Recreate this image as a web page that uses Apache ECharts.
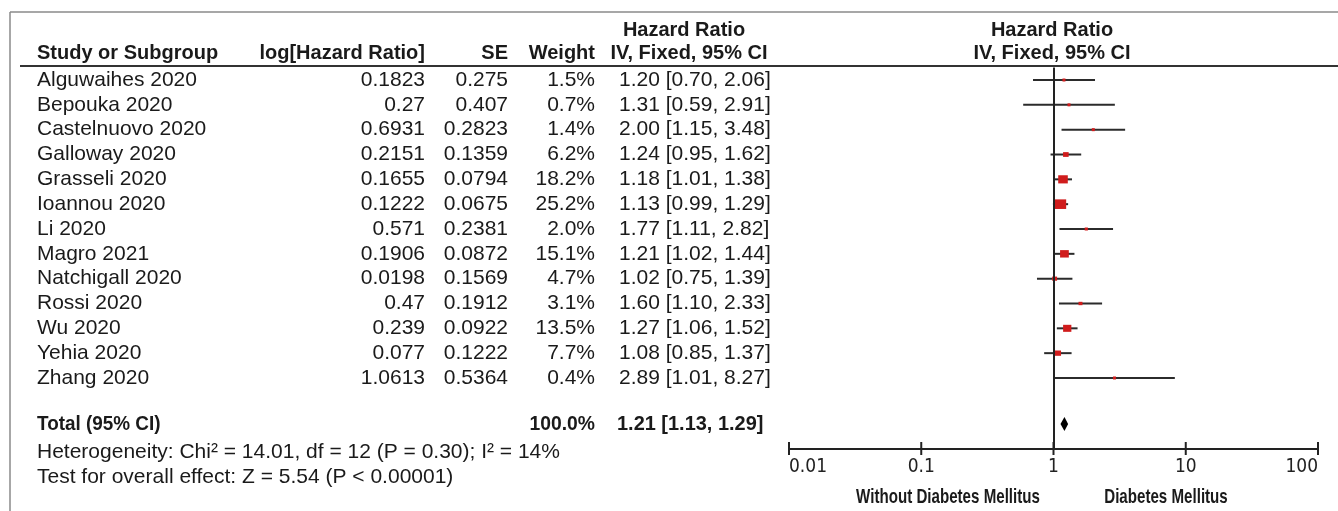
<!DOCTYPE html>
<html><head><meta charset="utf-8">
<script src="https://cdn.jsdelivr.net/npm/echarts@6/dist/echarts.min.js"></script>
<style>html,body{margin:0;padding:0;background:#fff}#c{width:1338px;height:511px}</style>
</head><body><div id="c"></div>
<script>
// ---- data ----
const studies = ['Alguwaihes 2020','Bepouka 2020','Castelnuovo 2020','Galloway 2020','Grasseli 2020','Ioannou 2020','Li 2020','Magro 2021','Natchigall 2020','Rossi 2020','Wu 2020','Yehia 2020','Zhang 2020'];
const logHR = [0.1823,0.27,0.6931,0.2151,0.1655,0.1222,0.571,0.1906,0.0198,0.47,0.239,0.077,1.0613];
const se = [0.275,0.407,0.2823,0.1359,0.0794,0.0675,0.2381,0.0872,0.1569,0.1912,0.0922,0.1222,0.5364];
const weight = [1.5,0.7,1.4,6.2,18.2,25.2,2.0,15.1,4.7,3.1,13.5,7.7,0.4];
const hr = [1.20,1.31,2.00,1.24,1.18,1.13,1.77,1.21,1.02,1.60,1.27,1.08,2.89];
const ciLow = [0.70,0.59,1.15,0.95,1.01,0.99,1.11,1.02,0.75,1.10,1.06,0.85,1.01];
const ciHigh = [2.06,2.91,3.48,1.62,1.38,1.29,2.82,1.44,1.39,2.33,1.52,1.37,8.27];
const totalWeight = 100.0, totalHR = 1.21, totalLow = 1.13, totalHigh = 1.29;
const axisTicks = [0.01, 0.1, 1, 10, 100];
const tickLabels = ['0.01', '0.1', '1', '10', '100'];
const heterogeneityText = 'Heterogeneity: Chi\u00b2 = 14.01, df = 12 (P = 0.30); I\u00b2 = 14%';
const overallText = 'Test for overall effect: Z = 5.54 (P < 0.00001)';
const leftFavours = 'Without Diabetes Mellitus';
const rightFavours = 'Diabetes Mellitus';

// ---- layout ----
const TOTAL_ROW = 13.85;
const Y_MIN = -0.5, Y_MAX = 14.86;
const F = '"Liberation Sans", Arial, sans-serif';
const TXT = '#1a1a1a';
const fmt2 = v => v.toFixed(2);
const ciText = (h, l, u) => fmt2(h) + ' [' + fmt2(l) + ', ' + fmt2(u) + ']';

const chart = echarts.init(document.getElementById('c'), null, {renderer: 'canvas'});
const yAx = gi => ({type:'value', gridIndex:gi, min:Y_MIN, max:Y_MAX, inverse:true, show:false});

function txt(x, y, text, align, font, sx) {
  return {type:'text', x, y, scaleX: sx || 1, scaleY: 1,
    style:{x:0, y:0, text, align, verticalAlign:'middle', font, fill:TXT}};
}

const option = {
  animation: false,
  backgroundColor: '#fff',
  grid: [
    {left:0, right:0, top:67.6, bottom:62},
    {left:789, right:20, top:67.6, bottom:62}
  ],
  xAxis: [
    {type:'value', gridIndex:0, min:0, max:1338, show:false},
    {type:'log', gridIndex:1, logBase:10, min:0.01, max:100, position:'bottom',
     axisLine:{show:true, onZero:false, lineStyle:{color:'#222', width:2}},
     axisTick:{show:false},
     splitLine:{show:false}, minorTick:{show:false},
     axisLabel:{show:true, margin:9, color:'#222', fontFamily:'"DejaVu Sans Condensed", "DejaVu Sans", sans-serif', fontSize:19,
       alignMinLabel:'left', alignMaxLabel:'right',
       formatter: v => { let best = 0; axisTicks.forEach((t,k)=>{ if (Math.abs(Math.log10(t)-Math.log10(v)) < Math.abs(Math.log10(axisTicks[best])-Math.log10(v))) best = k; }); return tickLabels[best]; }}}
  ],
  yAxis: [yAx(0), yAx(1)],
  series: [
    { // table rows
      type:'custom', xAxisIndex:0, yAxisIndex:0, silent:true,
      data: studies.map((s,i)=>[0, i]),
      encode:{x:0, y:1},
      renderItem: (params, api) => {
        const i = api.value(1);
        const y = api.coord([0, i])[1];
        const font = '21px ' + F;
        return {type:'group', children:[
          txt(api.coord([37,i])[0], y, studies[i], 'left', font),
          txt(api.coord([425,i])[0], y, String(logHR[i]), 'right', font),
          txt(api.coord([508,i])[0], y, String(se[i]), 'right', font),
          txt(api.coord([595,i])[0], y, weight[i].toFixed(1) + '%', 'right', font),
          txt(api.coord([619,i])[0], y, ciText(hr[i], ciLow[i], ciHigh[i]), 'left', font)
        ]};
      }
    },
    { // total row text
      type:'custom', xAxisIndex:0, yAxisIndex:0, silent:true,
      data: [[0, TOTAL_ROW]],
      encode:{x:0, y:1},
      renderItem: (params, api) => {
        const r = api.value(1);
        const y = api.coord([0, r])[1];
        const font = 'bold 21px ' + F;
        return {type:'group', children:[
          txt(api.coord([37,r])[0], y, 'Total (95% CI)', 'left', font, 0.9),
          txt(api.coord([595,r])[0], y, totalWeight.toFixed(1) + '%', 'right', font, 0.92),
          txt(api.coord([617,r])[0], y, ciText(totalHR, totalLow, totalHigh), 'left', font, 0.95)
        ]};
      }
    },
    { // study CIs + weighted squares
      type:'custom', xAxisIndex:1, yAxisIndex:1, silent:true,
      data: studies.map((s,i)=>[ciLow[i], ciHigh[i], hr[i], weight[i], i]),
      encode:{x:[0,1,2], y:4},
      renderItem: (params, api) => {
        const idx = api.value(4);
        const a = api.coord([api.value(0), idx]);
        const b = api.coord([api.value(1), idx]);
        const c = api.coord([api.value(2), idx]);
        const side = Math.max(3, 2.25 * Math.sqrt(api.value(3)));
        const h = Math.max(3, side * 0.85);
        return {type:'group', children:[
          {type:'line', shape:{x1:a[0], y1:a[1], x2:b[0], y2:b[1]}, style:{stroke:'#2b2b2b', lineWidth:2}},
          {type:'rect', shape:{x:c[0]-side/2, y:c[1]-h/2, width:side, height:h}, style:{fill:'#d01c1c'}}
        ]};
      },
      markLine: {silent:true, symbol:'none', label:{show:false},
        lineStyle:{color:'#222', width:2, type:'solid'}, data:[{xAxis:1}]}
    },
    { // pooled diamond
      type:'custom', xAxisIndex:1, yAxisIndex:1, silent:true,
      data: [[totalLow, totalHigh, totalHR, TOTAL_ROW]],
      encode:{x:[0,1,2], y:3},
      renderItem: (params, api) => {
        const r = api.value(3);
        const l = api.coord([api.value(0), r]);
        const u = api.coord([api.value(1), r]);
        const c = api.coord([api.value(2), r]);
        return {type:'polygon', shape:{points:[[l[0],c[1]],[c[0],c[1]-7],[u[0],c[1]],[c[0],c[1]+7]]}, style:{fill:'#000'}};
      }
    },
    { // axis tick marks crossing the axis line
      type:'custom', xAxisIndex:1, yAxisIndex:1, silent:true,
      data: axisTicks.map(v => [v, Y_MAX]),
      encode:{x:0, y:1},
      renderItem: (params, api) => {
        const p = api.coord([api.value(0), api.value(1)]);
        return {type:'line', shape:{x1:p[0], y1:p[1]-7, x2:p[0], y2:p[1]+6}, style:{stroke:'#222', lineWidth:2}};
      }
    }
  ],
  graphic: [
    {type:'line', shape:{x1:10, y1:12, x2:1338, y2:12}, style:{stroke:'#8a8a8a', lineWidth:1.5}},
    {type:'line', shape:{x1:10, y1:12, x2:10, y2:511}, style:{stroke:'#8a8a8a', lineWidth:1.5}},
    {type:'line', shape:{x1:20, y1:66, x2:1338, y2:66}, style:{stroke:'#333', lineWidth:2}},
    txt(37, 53, 'Study or Subgroup', 'left', 'bold 20px ' + F),
    txt(425, 53, 'log[Hazard Ratio]', 'right', 'bold 20px ' + F),
    txt(508, 53, 'SE', 'right', 'bold 20px ' + F),
    txt(595, 53, 'Weight', 'right', 'bold 20px ' + F),
    txt(684, 30, 'Hazard Ratio', 'center', 'bold 20px ' + F),
    txt(689, 53, 'IV, Fixed, 95% CI', 'center', 'bold 20px ' + F),
    txt(1052, 30, 'Hazard Ratio', 'center', 'bold 20px ' + F),
    txt(1052, 53, 'IV, Fixed, 95% CI', 'center', 'bold 20px ' + F),
    txt(37, 452, heterogeneityText, 'left', '21px ' + F),
    txt(37, 477, overallText, 'left', '21px ' + F),
    txt(948, 497, leftFavours, 'center', 'bold 21px ' + F, 0.72),
    txt(1166, 497, rightFavours, 'center', 'bold 21px ' + F, 0.72)
  ]
};
chart.setOption(option);
</script>
</body></html>
